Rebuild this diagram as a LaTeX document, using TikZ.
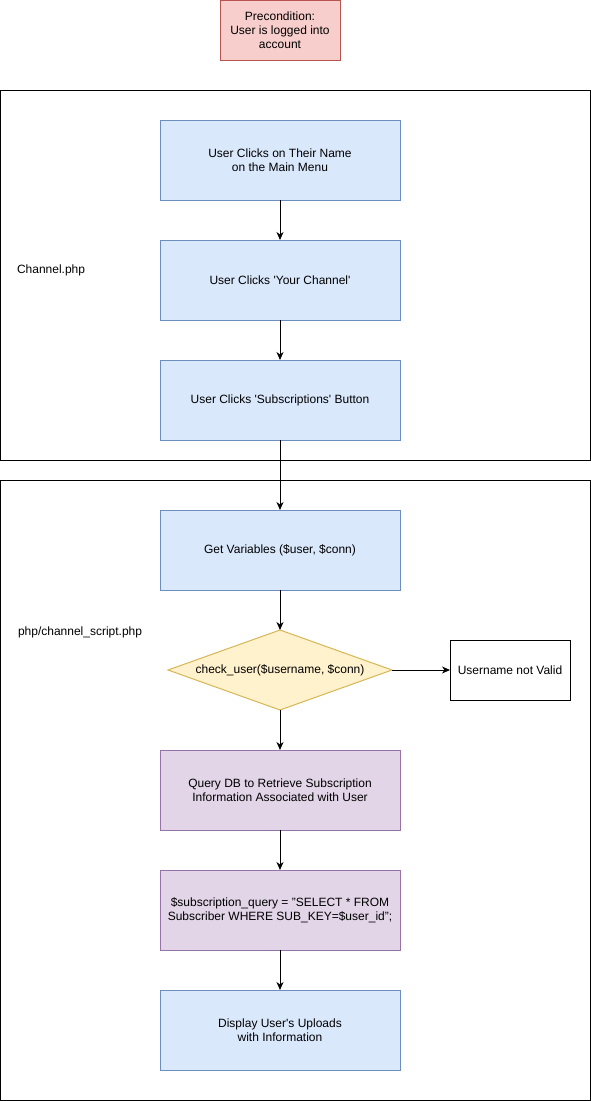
\documentclass[tikz,border=0pt]{standalone}
\usepackage{fontspec}
\setmainfont{Liberation Sans}
\usetikzlibrary{positioning,shapes.geometric,arrows.meta}
\definecolor{blueFill}{HTML}{DAE8FC}
\definecolor{blueLine}{HTML}{6C8EBF}
\definecolor{redFill}{HTML}{F8CECC}
\definecolor{redLine}{HTML}{B85450}
\definecolor{yellowFill}{HTML}{FFF2CC}
\definecolor{yellowLine}{HTML}{D6B656}
\definecolor{purpleFill}{HTML}{E1D5E7}
\definecolor{purpleLine}{HTML}{9673A6}
\begin{document}
\begin{tikzpicture}[
    x=1pt, y=-1pt,
    node distance=40pt,
    every node/.style={inner sep=0pt, outer sep=0pt, align=center, font=\fontsize{12}{14}\selectfont},
    stepbox/.style={draw=blueLine, fill=blueFill, line width=1pt, minimum width=240pt, minimum height=80pt},
    querybox/.style={draw=purpleLine, fill=purpleFill, line width=1pt, minimum width=240pt, minimum height=80pt},
    decision/.style={diamond, aspect=2.8, draw=yellowLine, fill=yellowFill, line width=1pt, minimum width=224pt, minimum height=80pt},
    frame/.style={draw=black, line width=1pt},
    flow/.style={draw, line width=1pt, -{Stealth[length=8pt, width=7pt, inset=2.5pt]}}
]
\useasboundingbox (0,0) rectangle (591,1101);
% page frames
\draw[frame] (0.5,90.5) rectangle (590.5,460.5);
\draw[frame] (0.5,480.5) rectangle (590.5,1100.5);
\node[anchor=west] (channel) at (17,270) {Channel.php};
\node[anchor=west] (script) at (18,632) {php/channel\_script.php};
% precondition
\node[draw=redLine, fill=redFill, line width=1pt, minimum width=120pt, minimum height=60pt] (pre) at (280,30)
    {Precondition:\\User is logged into\\account};
% flow
\node[stepbox] (name) at (280,160) {User Clicks on Their Name\\on the Main Menu};
\node[stepbox, below=of name] (your) {User Clicks \textquotesingle Your Channel\textquotesingle};
\node[stepbox, below=of your] (subs) {User Clicks \textquotesingle Subscriptions\textquotesingle{} Button};
\node[stepbox, below=70pt of subs] (vars) {Get Variables (\$user, \$conn)};
\node[decision, below=of vars] (check) {check\_user(\$username, \$conn)};
\node[draw, line width=1pt, minimum width=120pt, minimum height=60pt] (invalid) at (510,670) {Username not Valid};
\node[querybox, below=of check] (query) {Query DB to Retrieve Subscription\\Information Associated with User};
\node[querybox, below=of query] (sql) {\$subscription\_query = "SELECT * FROM\\Subscriber WHERE SUB\_KEY=\$user\_id";};
\node[stepbox, below=of sql] (show) {Display User\textquotesingle s Uploads\\with Information};
% arrows
\draw[flow] (name) -- (your);
\draw[flow] (your) -- (subs);
\draw[flow] (subs) -- (vars);
\draw[flow] (vars) -- (check);
\draw[flow] (check) -- (invalid);
\draw[flow] (check) -- (query);
\draw[flow] (query) -- (sql);
\draw[flow] (sql) -- (show);
\end{tikzpicture}
\end{document}
